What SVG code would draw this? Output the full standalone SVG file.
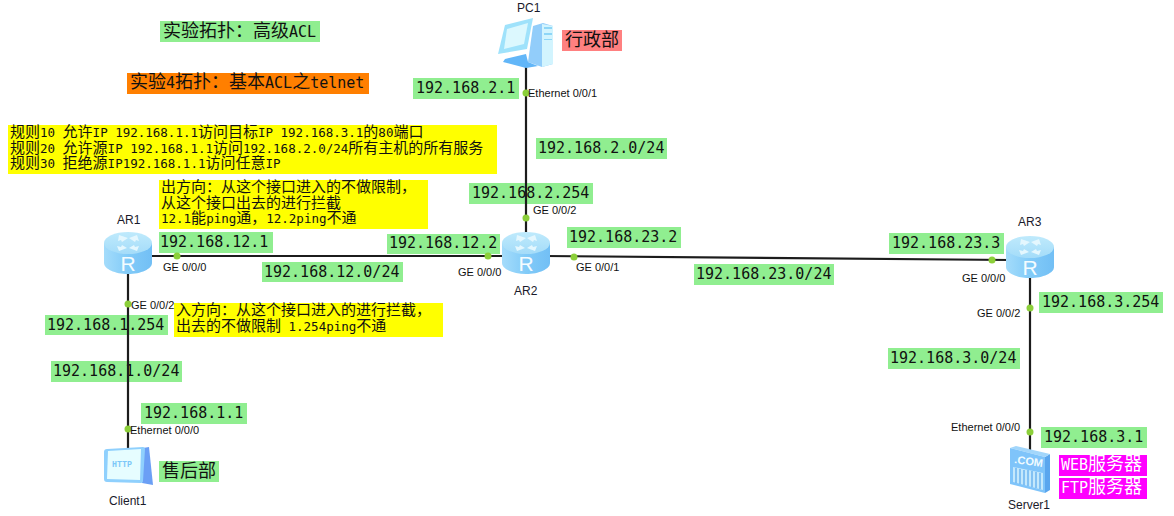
<svg xmlns="http://www.w3.org/2000/svg" width="1174" height="516" viewBox="0 0 1174 516">
<style>
text{font-family:"DejaVu Sans Mono","Noto Sans CJK SC",monospace;fill:#111}
.n{font-size:15px}
.s{font-size:12.5px}
.s tspan{font-family:"Noto Sans CJK SC",sans-serif;font-size:15px}
.h{font-size:15px}
.h tspan{font-family:"Noto Sans CJK SC",sans-serif;font-size:18px}
.l{font-family:"Liberation Sans",Arial,sans-serif;font-size:11px;fill:#111}
.d{font-family:"Liberation Sans",Arial,sans-serif;font-size:12px;fill:#1a1a2a}
.g{fill:#90ee90}
.y{fill:#ff0}
.m{fill:#ff00ff}
.m + text, .m + text tspan{fill:#fff}
.line{stroke:#1c1c1c;stroke-width:2.2;fill:none}
.dot{fill:#8ccf3a}
</style>
<defs>
<linearGradient id="side" x1="0" y1="0" x2="1" y2="0"><stop offset="0" stop-color="#a4dcfb"/><stop offset=".5" stop-color="#82cbf8"/><stop offset="1" stop-color="#72bff5"/></linearGradient>
<linearGradient id="top" x1="0" y1="0" x2="0" y2="1"><stop offset="0" stop-color="#bfeafc"/><stop offset="1" stop-color="#a4dcf9"/></linearGradient>
<g id="router">
<path d="M0 11V31C0 37 11 42 24 42S48 37 48 31V11Z" fill="url(#side)"/>
<ellipse cx="24" cy="11" rx="24" ry="11" fill="url(#top)"/>
<path d="M15 3l9 3-6 4-1-2-3 1zM33 3l-8 3 6 4 1-2 3 1zM15 19l8-3-5-3-1 2-4-1zM33 19l-8-3 5-3 1 2 4-1z" fill="#e4f7fe"/>
<text x="24" y="39" text-anchor="middle" style="font-family:'Liberation Sans',Arial,sans-serif;font-size:21px;fill:#f4fcff">R</text>
</g>
</defs>

<g id="notes">
<rect class="g" x="160" y="21" width="160" height="21"/>
<text class="h" x="163" y="37"><tspan>实验拓扑：高级</tspan>ACL</text>
<rect x="127" y="73" width="242" height="21" fill="#ff7f00"/>
<text class="h" x="130" y="88"><tspan>实验</tspan>4<tspan>拓扑：基本</tspan>ACL<tspan>之</tspan>telnet</text>
<rect class="y" x="8" y="125" width="489" height="49"/>
<text class="s" x="10" y="137"><tspan>规则</tspan>10 <tspan>允许</tspan>IP 192.168.1.1<tspan>访问目标</tspan>IP 192.168.3.1<tspan>的</tspan>80<tspan>端口</tspan></text>
<text class="s" x="10" y="152.500"><tspan>规则</tspan>20 <tspan>允许源</tspan>IP 192.168.1.1<tspan>访问</tspan>192.168.2.0/24<tspan>所有主机的所有服务</tspan></text>
<text class="s" x="10" y="168"><tspan>规则</tspan>30 <tspan>拒绝源</tspan>IP192.168.1.1<tspan>访问任意</tspan>IP</text>
<rect class="y" x="159" y="180" width="269" height="49"/>
<text class="s" x="161" y="192"><tspan>出方向：从这个接口进入的不做限制，</tspan></text>
<text class="s" x="161" y="207.500"><tspan>从这个接口出去的进行拦截</tspan></text>
<text class="s" x="161" y="223">12.1<tspan>能</tspan>ping<tspan>通，</tspan>12.2ping<tspan>不通</tspan></text>
<rect class="y" x="174" y="303" width="269" height="34"/>
<text class="s" x="176" y="315"><tspan>入方向：从这个接口进入的进行拦截，</tspan></text>
<text class="s" x="176" y="330.500"><tspan>出去的不做限制</tspan> 1.254ping<tspan>不通</tspan></text>
</g>

<g id="labels">
<rect class="g" x="159" y="232" width="114" height="21"/><text class="n" x="160" y="247">192.168.12.1</text>
<rect class="g" x="262" y="262" width="141" height="20"/><text class="n" x="264" y="277">192.168.12.0/24</text>
<rect class="g" x="45" y="315" width="123" height="20"/><text class="n" x="47" y="330">192.168.1.254</text>
<rect class="g" x="51" y="361" width="131" height="21"/><text class="n" x="53" y="376">192.168.1.0/24</text>
<rect class="g" x="141" y="403" width="106" height="21"/><text class="n" x="144" y="418">192.168.1.1</text>
<rect class="g" x="159" y="461" width="60" height="21"/><text class="h" x="162" y="477"><tspan>售后部</tspan></text>
<rect class="g" x="387" y="234" width="113" height="20"/><text class="n" x="389" y="248">192.168.12.2</text>
<rect class="g" x="469" y="183" width="124" height="21"/><text class="n" x="472" y="198">192.168.2.254</text>
<rect class="g" x="413" y="78" width="106" height="21"/><text class="n" x="416" y="93">192.168.2.1</text>
<rect class="g" x="536" y="138" width="131" height="21"/><text class="n" x="538" y="153">192.168.2.0/24</text>
<rect x="562" y="30" width="60" height="21" fill="#ff8080"/><text class="h" x="565" y="46"><tspan>行政部</tspan></text>
<rect class="g" x="567" y="227" width="114" height="21"/><text class="n" x="569" y="242">192.168.23.2</text>
<rect class="g" x="694" y="264" width="140" height="21"/><text class="n" x="696" y="279">192.168.23.0/24</text>
<rect class="g" x="889" y="233" width="115" height="21"/><text class="n" x="892" y="248">192.168.23.3</text>
<rect class="g" x="1039" y="292" width="124" height="21"/><text class="n" x="1042" y="307">192.168.3.254</text>
<rect class="g" x="888" y="348" width="132" height="21"/><text class="n" x="890" y="363">192.168.3.0/24</text>
<rect class="g" x="1041" y="427" width="106" height="21"/><text class="n" x="1044" y="442">192.168.3.1</text>
<rect class="m" x="1059" y="455" width="88" height="21"/><text class="h" x="1061" y="470">WEB<tspan>服务器</tspan></text>
<rect class="m" x="1059" y="478" width="88" height="21"/><text class="h" x="1061" y="493">FTP<tspan>服务器</tspan></text>
</g>

<g id="connectors">
<path class="line" d="M140 256H505"/>
<path class="line" d="M545 256L1010 260"/>
<path class="line" d="M526 62V236"/>
<path class="line" d="M128 268V448"/>
<path class="line" d="M1030 272V452"/>
<circle class="dot" cx="177" cy="256" r="3.500"/>
<circle class="dot" cx="488" cy="256" r="3.500"/>
<circle class="dot" cx="128" cy="304" r="3.500"/>
<circle class="dot" cx="128" cy="429" r="3.500"/>
<circle class="dot" cx="526" cy="218" r="3.500"/>
<circle class="dot" cx="526" cy="93" r="3.500"/>
<circle class="dot" cx="574" cy="257" r="3.500"/>
<circle class="dot" cx="992" cy="260" r="3.500"/>
<circle class="dot" cx="1030" cy="308" r="3.500"/>
<circle class="dot" cx="1030" cy="432" r="3.500"/>
<text class="l" x="163" y="271">GE 0/0/0</text>
<text class="l" x="131" y="309">GE 0/0/2</text>
<text class="l" x="130" y="434">Ethernet 0/0/0</text>
<text class="l" x="458" y="276">GE 0/0/0</text>
<text class="l" x="533" y="214">GE 0/0/2</text>
<text class="l" x="528" y="97">Ethernet 0/0/1</text>
<text class="l" x="576" y="271">GE 0/0/1</text>
<text class="l" x="962" y="282">GE 0/0/0</text>
<text class="l" x="977" y="317">GE 0/0/2</text>
<text class="l" x="951" y="431">Ethernet 0/0/0</text>
</g>

<g id="AR1"><use href="#router" x="104" y="232"/><text class="d" x="117" y="224">AR1</text></g>
<g id="AR2"><use href="#router" x="502" y="232"/><text class="d" x="514" y="295">AR2</text></g>
<g id="AR3"><use href="#router" x="1006" y="236"/><text class="d" x="1018" y="226">AR3</text></g>

<g id="PC1">
<path d="M533 26L543 23 553 26V64L542 67 528 62Z" fill="#92cdfa"/>
<path d="M542 24L553 26V64L542 67Z" fill="#d2f4fe"/>
<path d="M544 27h8v2h-8zM544 33h8v2h-8zM544 39h8v1h-8z" fill="#8ed6f7"/>
<path d="M505 59L526 54 528 62 538 66 526 68 503 62Z" fill="#62b6f8"/>
<path d="M505 25L533 18 527 49 498 54Z" fill="#9fe2fb"/>
<path d="M507 29L528 23 524 44 504 49Z" fill="#dcf8fe"/>
<text class="d" x="517" y="12">PC1</text>
</g>

<g id="Client1">
<path d="M143 448L149 447 153 485 142 483Z" fill="#6b9ff5"/>
<path d="M107 449L143 447Q145 447 145 449L143 481Q143 483 141 483L107 482Q104 482 104 479L104 452Q104 449 107 449Z" fill="#8fd0fd"/>
<path d="M108 451L141 449 140 480 107 479Z" fill="#e6fdff"/>
<text x="112" y="467" style="font-family:'Liberation Mono',monospace;font-size:8.300px;font-weight:700;fill:#7cc8f8">HTTP</text>
<text class="d" x="109" y="505">Client1</text>
</g>

<g id="Server1">
<path d="M1045 457L1050 454 1050 490 1045 493Z" fill="#5aa6ee"/>
<path d="M1010 448L1016 446 1050 454 1045 457Z" fill="#a2d6fb"/>
<path d="M1010 448L1045 457V493L1010 484Z" fill="#7fc4fa"/>
<path d="M1013 467L1043 473 1043 490 1013 482Z" fill="#c4e8fc"/>
<path d="M1016 468V483M1020 469V484M1024 470V485M1028 470V486M1032 471V487M1036 472V488M1040 473V489" stroke="#6cb4f0" stroke-width="1.500"/>
<text x="1014" y="463" transform="rotate(8 1014 463)" style="font-family:'Liberation Sans',sans-serif;font-size:11px;font-weight:700;fill:#f0fbff">.COM</text>
<text class="d" x="1008" y="509">Server1</text>
</g>
</svg>
